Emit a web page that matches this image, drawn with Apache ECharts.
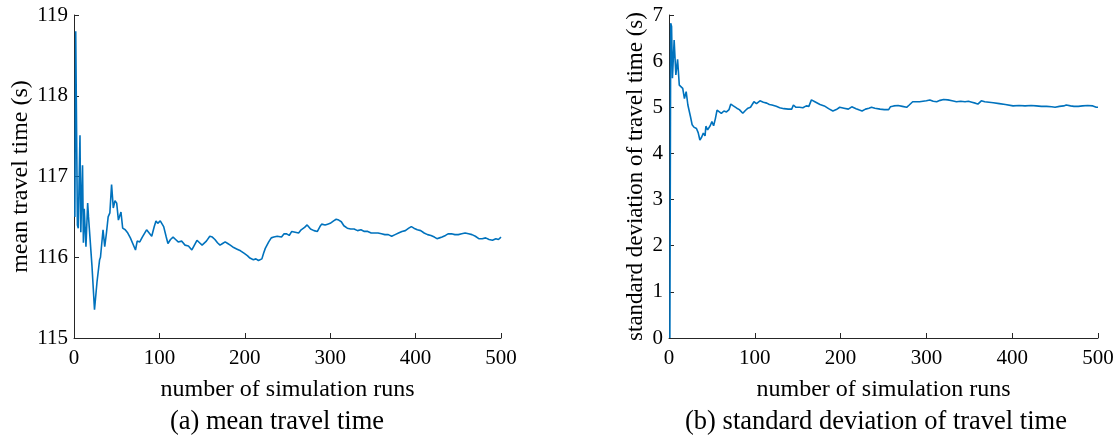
<!DOCTYPE html>
<html>
<head>
<meta charset="utf-8">
<script src="https://cdn.jsdelivr.net/npm/echarts@6/dist/echarts.min.js"></script>
<style>
html,body{margin:0;padding:0;background:#fff;}
#chart{width:1117px;height:436px;}
</style>
</head>
<body>
<div id="chart"></div>
<script>
// ---- data ----
const meanRuns = [1,2,3,4,5,7,8,10,11,12,14,16,17,19,21,24,27,30,31,34,36,38,40,42,44,46,48,50,52,55,57,60,63,66,68,72,74,77,80,85,88,91,94,96,98,101,105,108,110,113,116,119,122,126,130,134,138,141,144,147,150,155,159,162,165,168,171,174,177,180,183,187,191,195,199,203,206,210,213,216,220,222,224,228,231,234,238,243,246,249,252,255,259,263,266,270,273,277,281,285,288,290,294,297,300,304,307,310,313,316,320,324,328,332,336,340,344,348,352,356,360,364,368,372,376,380,384,388,392,395,398,402,406,410,414,418,422,425,428,431,435,438,442,446,450,454,458,462,466,470,474,478,482,486,490,494,497,500];
const meanValues = [116.5,118.8,118.8,116.4,116.36,117.51,116.31,117.14,116.18,116.6,116.13,116.67,116.5,116.2,115.9,115.35,115.7,115.97,116.0,116.34,116.13,116.3,116.5,116.55,116.9,116.61,116.7,116.67,116.46,116.56,116.36,116.34,116.3,116.24,116.25,116.09,116.2,116.19,116.25,116.34,116.3,116.26,116.38,116.45,116.42,116.45,116.38,116.25,116.17,116.22,116.25,116.22,116.19,116.2,116.15,116.14,116.09,116.15,116.21,116.18,116.15,116.2,116.26,116.25,116.22,116.18,116.15,116.17,116.19,116.17,116.15,116.12,116.1,116.08,116.05,116.02,115.99,115.97,115.98,115.96,115.98,116.05,116.11,116.19,116.24,116.25,116.26,116.25,116.29,116.29,116.27,116.32,116.31,116.3,116.34,116.37,116.4,116.35,116.33,116.32,116.38,116.41,116.4,116.41,116.42,116.45,116.47,116.46,116.44,116.39,116.36,116.35,116.35,116.33,116.34,116.32,116.32,116.3,116.3,116.3,116.29,116.28,116.28,116.26,116.28,116.3,116.32,116.33,116.36,116.38,116.36,116.34,116.33,116.3,116.28,116.27,116.25,116.23,116.24,116.25,116.27,116.29,116.29,116.28,116.28,116.29,116.3,116.29,116.28,116.26,116.23,116.23,116.24,116.22,116.21,116.23,116.22,116.25];

const sdRuns = [1,2,3,4,6,8,10,12,14,16,18,20,22,25,27,29,32,34,36,38,40,42,43,45,48,50,52,54,56,58,61,64,67,70,72,75,79,82,86,89,92,95,99,102,106,110,114,117,120,125,129,134,139,143,145,148,152,156,160,163,166,170,176,181,186,191,195,199,204,209,211,213,218,222,225,229,233,236,240,246,251,256,258,262,267,272,277,280,284,288,292,296,300,304,308,312,316,320,325,330,335,340,345,349,353,357,360,364,368,373,378,385,392,401,408,415,422,428,434,440,446,450,455,460,463,468,472,477,482,488,494,498,500];
const sdValues = [0,6.82,6.75,5.63,6.46,5.7,6.04,5.48,5.5,5.41,5.19,5.34,5.05,4.8,4.62,4.57,4.54,4.45,4.29,4.35,4.44,4.38,4.59,4.51,4.6,4.69,4.6,4.75,4.94,4.9,4.87,4.92,4.9,4.95,5.07,5.03,4.98,4.95,4.87,4.93,4.98,5.0,5.12,5.08,5.14,5.11,5.09,5.06,5.05,5.02,4.99,4.97,4.96,4.96,5.05,5.0,5.0,4.99,5.03,5.02,5.16,5.12,5.06,5.03,4.97,4.92,4.95,5.0,4.98,4.96,4.94,5.01,4.97,4.94,4.92,4.96,4.98,5.0,4.98,4.96,4.95,4.95,5.01,5.03,5.04,5.02,5.0,5.05,5.12,5.12,5.12,5.13,5.14,5.16,5.13,5.12,5.15,5.17,5.16,5.14,5.12,5.13,5.12,5.13,5.11,5.09,5.07,5.14,5.12,5.11,5.1,5.08,5.06,5.03,5.04,5.03,5.04,5.03,5.02,5.02,5.01,5.0,5.02,5.03,5.05,5.03,5.02,5.02,5.03,5.04,5.03,5.0,5.0];

const xTicks = [0,100,200,300,400,500];
const meanYTicks = [115,116,117,118,119];
const sdYTicks = [0,1,2,3,4,5,6,7];

const xName = 'number of simulation runs';
const meanYName = 'mean travel time (s)';
const sdYName = 'standard deviation of travel time (s)';
const captions = ['(a) mean travel time', '(b) standard deviation of travel time'];

// ---- styling ----
const FONT = '"Liberation Serif", "Times New Roman", serif';
const AX = '#262626';
const LINE = '#0072BD';

function xAxis(gridIndex){
  return {
    type:'value', gridIndex, min:xTicks[0], max:xTicks[xTicks.length-1], interval:100,
    name:xName, nameLocation:'middle', nameGap:40,
    nameTextStyle:{fontFamily:FONT,fontSize:24,color:'#000'},
    axisLine:{show:true,onZero:false,lineStyle:{color:AX,width:1}},
    axisTick:{show:true,inside:true,length:5,lineStyle:{color:AX,width:1}},
    axisLabel:{fontFamily:FONT,fontSize:21,color:'#000',margin:10},
    splitLine:{show:false}
  };
}
function yAxis(gridIndex, ticks, name, gap, fs){
  return {
    type:'value', gridIndex, min:ticks[0], max:ticks[ticks.length-1], interval:1,
    name, nameLocation:'middle', nameGap:gap, nameRotate:90,
    nameTextStyle:{fontFamily:FONT,fontSize:fs,color:'#000'},
    axisLine:{show:true,onZero:false,lineStyle:{color:AX,width:1}},
    axisTick:{show:true,inside:true,length:5,lineStyle:{color:AX,width:1}},
    axisLabel:{fontFamily:FONT,fontSize:21,color:'#000',margin:6},
    splitLine:{show:false}
  };
}

const chart = echarts.init(document.getElementById('chart'), null, {renderer:'canvas'});
chart.setOption({
  animation:false,
  backgroundColor:'#fff',
  grid:[
    {left:74, right:1117-501, top:15, bottom:436-338},
    {left:669, right:1117-1098, top:15, bottom:436-338}
  ],
  xAxis:[xAxis(0), xAxis(1)],
  yAxis:[yAxis(0, meanYTicks, meanYName, 41, 24), yAxis(1, sdYTicks, sdYName, 22, 23)],
  series:[
    {type:'line', xAxisIndex:0, yAxisIndex:0, showSymbol:false, symbol:'none',
     data:meanRuns.map((r,i)=>[r,meanValues[i]]), lineStyle:{color:LINE,width:1.6}},
    {type:'line', xAxisIndex:1, yAxisIndex:1, showSymbol:false, symbol:'none',
     data:sdRuns.map((r,i)=>[r,sdValues[i]]), lineStyle:{color:LINE,width:1.6}}
  ],
  graphic:[
    {type:'text', x:277, y:422,
     style:{text:captions[0], align:'center', verticalAlign:'middle', font:'26.5px ' + FONT, fill:'#000'}},
    {type:'text', x:876, y:422,
     style:{text:captions[1], align:'center', verticalAlign:'middle', font:'26.5px ' + FONT, fill:'#000'}}
  ]
});
</script>
</body>
</html>
